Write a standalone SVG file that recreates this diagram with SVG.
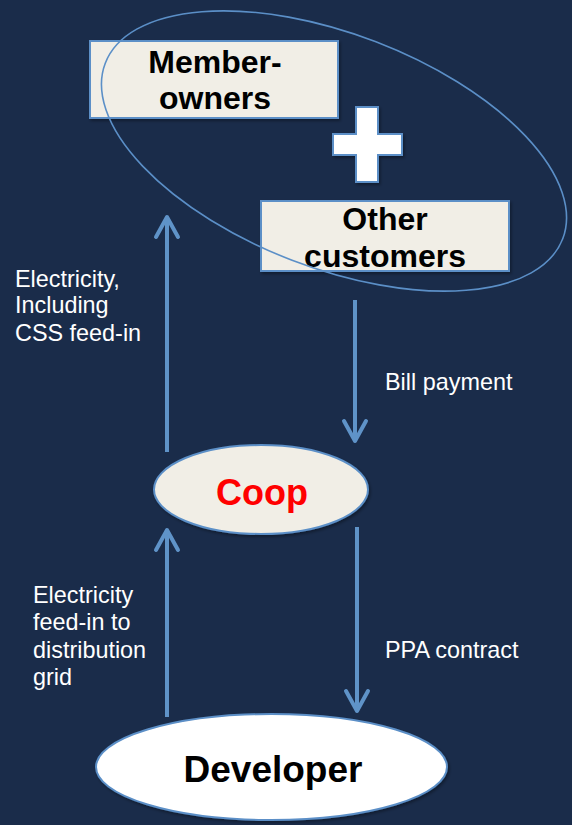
<svg xmlns="http://www.w3.org/2000/svg" width="572" height="825" viewBox="0 0 572 825">
  <defs>
    <style>
      .box { fill: #f1eee6; stroke: #5b8fc7; stroke-width: 2; filter: url(#shadow); }
      .title { font-family: "Liberation Sans", Arial, sans-serif; font-weight: bold; fill: #000; text-anchor: middle; }
      .label { font-family: "Liberation Sans", Arial, sans-serif; font-size: 23.4px; fill: #ffffff; }
      .flow { stroke: #5f93c8; stroke-width: 4; fill: none; marker-end: url(#chevron); }
    </style>
    <filter id="shadow" x="-10%" y="-10%" width="125%" height="130%">
      <feDropShadow dx="1.5" dy="2" stdDeviation="1.5" flood-color="#000" flood-opacity="0.35"/>
    </filter>
    <marker id="chevron" markerUnits="userSpaceOnUse" viewBox="-24 -14 28 28" markerWidth="28" markerHeight="28" refX="0" refY="0" orient="auto">
      <path d="M-20,-11 L0,0 L-20,11" fill="none" stroke="#5f93c8" stroke-width="4" stroke-linecap="round" stroke-linejoin="round"/>
    </marker>
  </defs>

  <rect width="572" height="825" fill="#1a2c4a"/>

  <g id="member-owners">
    <rect class="box" x="90" y="41" width="248" height="77"/>
    <text class="title" x="215" y="73" font-size="32">Member-</text>
    <text class="title" x="215" y="109" font-size="32">owners</text>
  </g>

  <g id="plus">
    <polygon points="356,107 378,107 378,134 402,134 402,155 378,155 378,182 356,182 356,155 333,155 333,134 356,134" fill="#ffffff" stroke="#5b8fc7" stroke-width="2" filter="url(#shadow)"/>
  </g>

  <g id="other-customers">
    <rect class="box" x="261" y="201" width="248" height="70"/>
    <text class="title" x="385" y="230" font-size="32">Other</text>
    <text class="title" x="385" y="267" font-size="32">customers</text>
  </g>

  <g id="customer-group">
    <ellipse cx="334" cy="151" rx="245" ry="117" transform="rotate(21 334 151)" fill="none" stroke="#5b8fc7" stroke-width="1.6"/>
  </g>

  <g id="coop">
    <ellipse class="box" cx="261" cy="489.5" rx="107" ry="44.5"/>
    <text class="title" x="262" y="505" font-size="36" style="fill:#ff0000">Coop</text>
  </g>

  <g id="developer">
    <ellipse class="box" cx="271.5" cy="767" rx="175.5" ry="53" style="fill:#ffffff"/>
    <text class="title" x="273" y="782" font-size="37">Developer</text>
  </g>

  <g id="connectors">
    <path class="flow" d="M167 452 V217"/>
    <path class="flow" d="M355 300 V441"/>
    <path class="flow" d="M167 717 V530"/>
    <path class="flow" d="M357 527 V711"/>
  </g>

  <g id="labels">
    <text class="label" x="15" y="287">Electricity,</text>
    <text class="label" x="15" y="313">Including</text>
    <text class="label" x="15" y="341">CSS feed-in</text>
    <text class="label" x="385" y="390">Bill payment</text>
    <text class="label" x="33" y="603">Electricity</text>
    <text class="label" x="33" y="630">feed-in to</text>
    <text class="label" x="33" y="658">distribution</text>
    <text class="label" x="33" y="685">grid</text>
    <text class="label" x="385" y="658">PPA contract</text>
  </g>
</svg>
